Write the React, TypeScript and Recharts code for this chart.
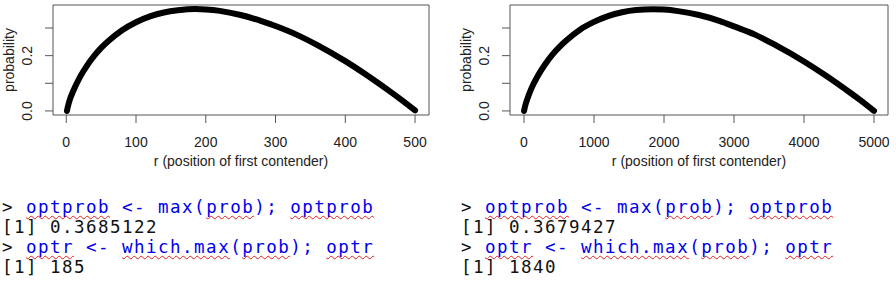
import { LineChart, Line, XAxis, YAxis, ReferenceArea } from 'recharts'

// left panel: n = 500
const rSmall = [1, 2, 3, 5, 10, 20, 30, 40, 50, 60, 80, 100, 120, 140, 160, 185, 200, 220, 250, 280, 300, 330, 360, 400, 430, 460, 480, 500]
const probSmall = [0, 0.012, 0.022, 0.040, 0.072, 0.124, 0.165, 0.199, 0.228, 0.252, 0.292, 0.321, 0.342, 0.356, 0.364, 0.3685, 0.367, 0.362, 0.347, 0.325, 0.307, 0.276, 0.238, 0.180, 0.131, 0.078, 0.041, 0.002]
const xTicksSmall = [0, 100, 200, 300, 400, 500]

// right panel: n = 5000
const rLarge = [1, 10, 25, 50, 100, 200, 300, 400, 500, 600, 800, 1000, 1200, 1400, 1600, 1840, 2000, 2200, 2500, 2800, 3000, 3300, 3600, 4000, 4300, 4600, 4800, 5000]
const probLarge = [0, 0.011, 0.026, 0.045, 0.078, 0.128, 0.168, 0.202, 0.230, 0.254, 0.294, 0.322, 0.343, 0.357, 0.365, 0.3679, 0.3665, 0.361, 0.347, 0.325, 0.306, 0.276, 0.237, 0.179, 0.130, 0.077, 0.040, 0.0002]
const xTicksLarge = [0, 1000, 2000, 3000, 4000, 5000]

const yTicks = [0, 0.1, 0.2, 0.3]
const yTickLabels = ['0.0', '', '0.2', '']

const consoleLeft = { optprob: '0.3685122', optr: '185' }
const consoleRight = { optprob: '0.3679427', optr: '1840' }

const FONT = '"Liberation Sans", Arial, sans-serif'
const INK = '#222'
const FS = 14

interface PanelProps {
  rs: number[]
  probs: number[]
  xTicks: number[]
  xDomain: [number, number]
  width: number
  left: number
  rightMargin: number
}

function Panel({ rs, probs, xTicks, xDomain, width, left, rightMargin }: PanelProps) {
  const data = rs.map((r, i) => ({ r, p: probs[i] }))
  const yDomain: [number, number] = [-0.0147, 0.3832]
  return (
    <div style={{ position: 'absolute', left, top: 0 }}>
      <LineChart width={width} height={180} data={data} margin={{ top: 5, right: rightMargin, left: 0, bottom: 0 }}>
        <XAxis
          dataKey="r"
          type="number"
          domain={xDomain}
          ticks={xTicks}
          allowDataOverflow
          axisLine={false}
          tickSize={8}
          tickLine={{ stroke: '#555' }}
          height={65}
          tick={(props: any) => (
            <text x={props.x} y={props.y + 17} textAnchor="middle" dominantBaseline="central"
              fontFamily={FONT} fontSize={FS} fill={INK}>
              {props.payload.value}
            </text>
          )}
          label={{
            content: (props: any) => {
              const vb = props.viewBox
              return (
                <text x={vb.x + vb.width / 2} y={161} textAnchor="middle" dominantBaseline="central"
                  fontFamily={FONT} fontSize={FS} fill={INK}>
                  r (position of first contender)
                </text>
              )
            },
          }}
        />
        <YAxis
          type="number"
          domain={yDomain}
          ticks={yTicks}
          allowDataOverflow
          axisLine={false}
          tickSize={8}
          tickLine={{ stroke: '#555' }}
          width={53}
          tick={(props: any) => {
            const i = yTicks.indexOf(props.payload.value)
            const x = props.x - 16
            return (
              <text x={x} y={props.y} transform={`rotate(-90 ${x} ${props.y})`} textAnchor="middle"
                dominantBaseline="central" fontFamily={FONT} fontSize={FS} fill={INK}>
                {yTickLabels[i]}
              </text>
            )
          }}
          label={{
            content: (props: any) => {
              const vb = props.viewBox
              const cy = vb.y + vb.height / 2
              return (
                <text x={9} y={cy} transform={`rotate(-90 9 ${cy})`} textAnchor="middle" dominantBaseline="central"
                  fontFamily={FONT} fontSize={FS} fill={INK}>
                  probability
                </text>
              )
            },
          }}
        />
        <ReferenceArea x1={xDomain[0]} x2={xDomain[1]} y1={yDomain[0]} y2={yDomain[1]}
          fill="none" stroke="#555" strokeWidth={1} fillOpacity={0} ifOverflow="visible" />
        <Line
          type="monotone"
          dataKey="p"
          stroke="#000"
          strokeWidth={6}
          strokeLinecap="round"
          dot={false}
          isAnimationActive={false}
        />
      </LineChart>
    </div>
  )
}

const blue = { color: '#0000ee' }
const squiggle = {
  textDecorationLine: 'underline',
  textDecorationStyle: 'wavy' as const,
  textDecorationColor: '#e02020',
  textDecorationThickness: '1px',
  textUnderlineOffset: '2px',
  textDecorationSkipInk: 'none' as const,
}

function ConsoleText({ left, vals }: { left: number; vals: { optprob: string; optr: string } }) {
  const W = (s: string) => <span style={squiggle}>{s}</span>
  return (
    <div style={{
      position: 'absolute', left, top: 197, fontFamily: '"DejaVu Sans Mono", "Liberation Mono", monospace',
      fontSize: 17.5, letterSpacing: '1.47px', lineHeight: '20px', whiteSpace: 'pre', color: '#111',
    }}>
      <div>{'> '}<span style={blue}>{W('optprob')}{' <- max('}{W('prob')}{'); '}{W('optprob')}</span></div>
      <div>{'[1] ' + vals.optprob}</div>
      <div>{'> '}<span style={blue}>{W('optr')}{' <- '}{W('which.max')}{'('}{W('prob')}{'); '}{W('optr')}</span></div>
      <div>{'[1] ' + vals.optr}</div>
    </div>
  )
}

export default function App() {
  return (
    <div style={{ position: 'absolute', left: 0, top: 0, width: 896, height: 282, background: '#fff', overflow: 'hidden' }}>
      <Panel rs={rSmall} probs={probSmall} xTicks={xTicksSmall} xDomain={[-19, 520]} width={440} left={0} rightMargin={11} />
      <Panel rs={rLarge} probs={probLarge} xTicks={xTicksLarge} xDomain={[-200, 5200]} width={439} left={457} rightMargin={8} />
      <ConsoleText left={2} vals={consoleLeft} />
      <ConsoleText left={461} vals={consoleRight} />
    </div>
  )
}
